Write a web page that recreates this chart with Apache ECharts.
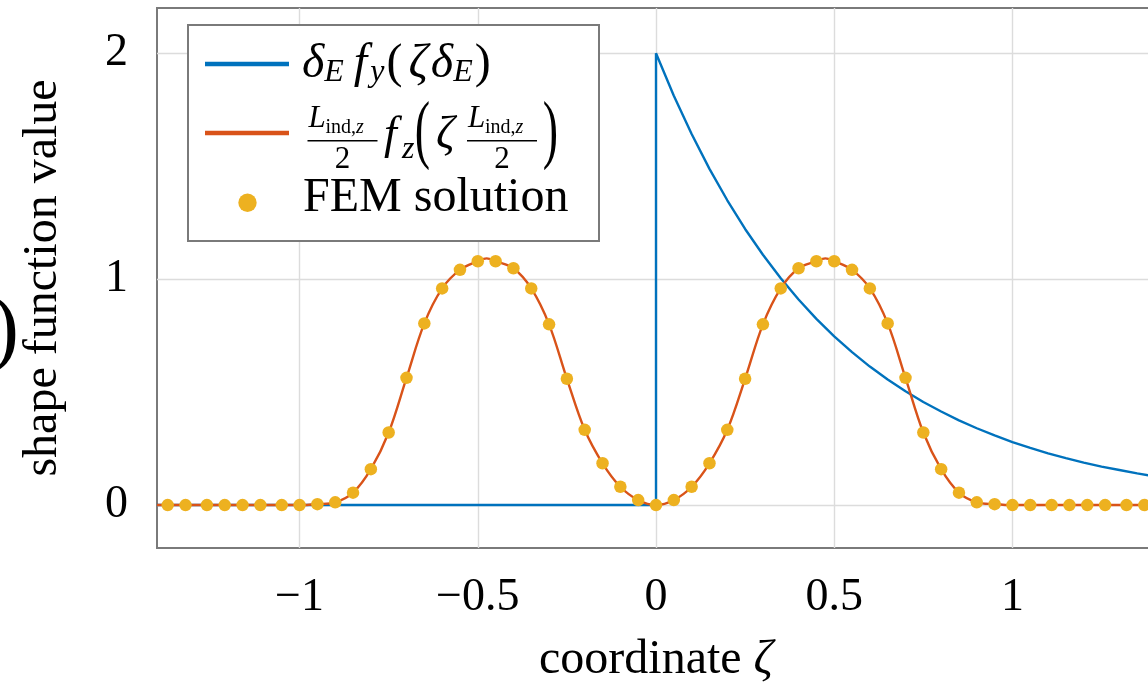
<!DOCTYPE html>
<html>
<head>
<meta charset="utf-8">
<script src="https://cdn.jsdelivr.net/npm/echarts@6/dist/echarts.min.js"></script>
<style>
  html, body { margin: 0; padding: 0; background: #fff; }
  #chart { width: 1148px; height: 694px; }
</style>
</head>
<body>
<div id="chart"></div>
<script>
(function () {

    // delta_E f_y(zeta delta_E)
    var fyX = [-1.4, 0, 0, 0.05, 0.1, 0.15, 0.2, 0.25, 0.3, 0.35, 0.4, 0.45, 0.5, 0.55, 0.6, 0.65,
        0.7, 0.75, 0.8, 0.85, 0.9, 0.95, 1.0, 1.05, 1.1, 1.15, 1.2, 1.25, 1.3, 1.35, 1.4];
    var fyY = [0, 0, 2.0, 1.812, 1.642, 1.488, 1.349, 1.222, 1.108, 1.004, 0.910, 0.824, 0.747, 0.677, 0.613, 0.556,
        0.504, 0.456, 0.414, 0.375, 0.340, 0.308, 0.279, 0.253, 0.229, 0.208, 0.188, 0.170, 0.155, 0.140, 0.127];

    // L/2 f_z(zeta L/2)
    var fzX = [-1.4, -1.37, -1.32, -1.26, -1.21, -1.16, -1.11, -1.05, -1.0, -0.95, -0.9, -0.85, -0.8,
        -0.75, -0.7, -0.65, -0.6, -0.55, -0.5, -0.475, -0.45, -0.4, -0.35, -0.3, -0.25, -0.2, -0.15,
        -0.1, -0.05, 0, 0.05, 0.1, 0.15, 0.2, 0.25, 0.3, 0.35, 0.4, 0.45, 0.475, 0.5, 0.55, 0.6, 0.65,
        0.7, 0.75, 0.8, 0.85, 0.9, 0.95, 1.0, 1.05, 1.11, 1.16, 1.21, 1.26, 1.32, 1.37, 1.4];
    var fzY = [0, 0, 0, 0, 0, 0, 0, 0, 0, 0.004, 0.012, 0.055, 0.159,
        0.321, 0.563, 0.804, 0.959, 1.041, 1.079, 1.092, 1.079, 1.048, 0.959, 0.80, 0.559, 0.333, 0.185,
        0.081, 0.022, 0, 0.022, 0.081, 0.185, 0.333, 0.559, 0.80, 0.959, 1.048, 1.079, 1.092, 1.079, 1.041, 0.959, 0.804,
        0.563, 0.321, 0.159, 0.055, 0.012, 0.004, 0, 0, 0, 0, 0, 0, 0, 0, 0];

    // FEM solution points
    var femX = [-1.37, -1.32, -1.26, -1.21, -1.16, -1.11, -1.05, -1.0, -0.95, -0.9, -0.85, -0.8,
        -0.75, -0.7, -0.65, -0.6, -0.55, -0.5, -0.45, -0.4, -0.35, -0.3, -0.25, -0.2, -0.15,
        -0.1, -0.05, 0, 0.05, 0.1, 0.15, 0.2, 0.25, 0.3, 0.35, 0.4, 0.45, 0.5, 0.55, 0.6, 0.65,
        0.7, 0.75, 0.8, 0.85, 0.9, 0.95, 1.0, 1.05, 1.11, 1.16, 1.21, 1.26, 1.32, 1.37];
    var femY = [0, 0, 0, 0, 0, 0, 0, 0, 0.004, 0.012, 0.055, 0.159,
        0.321, 0.563, 0.804, 0.959, 1.041, 1.079, 1.079, 1.048, 0.959, 0.80, 0.559, 0.333, 0.185,
        0.081, 0.022, 0, 0.022, 0.081, 0.185, 0.333, 0.559, 0.80, 0.959, 1.048, 1.079, 1.079, 1.041, 0.959, 0.804,
        0.563, 0.321, 0.159, 0.055, 0.012, 0.004, 0, 0, 0, 0, 0, 0, 0, 0];

    var xTicks = [-1, -0.5, 0, 0.5, 1];
    var yTicks = [0, 1, 2];

    var BLUE = '#0072BD';
    var ORANGE = '#D95319';
    var YELLOW = '#EDB120';
    var FRAME = '#7a7a7a';
    var GRIDLINE = '#dcdcdc';
    var SERIF = '"Liberation Serif", "Times New Roman", serif';

    function pairs(xs, ys) {
        return xs.map(function (x, i) { return [x, ys[i]]; });
    }

    function tickText(v) {
        return v < 0 ? '\u2212' + Math.abs(v) : String(v);
    }

    var chart = echarts.init(document.getElementById('chart'), null, { renderer: 'canvas' });

    function txt(x, y, text, font, align) {
        return {
            type: 'text', x: x, y: y, silent: true, z: 101,
            style: {
                text: text, font: font, fill: '#000',
                textAlign: align || 'left', align: align || 'left',
                textVerticalAlign: 'middle', verticalAlign: 'middle'
            }
        };
    }

    function paren(x, y, ch) {
        var el = txt(x, y, ch, '46px ' + SERIF, 'center');
        el.scaleY = 1.67;
        return el;
    }

    function fraction(x0, barY) {
        // L_{ind,z} over 2
        return [
            txt(x0 + 1, barY - 22, 'L', 'italic 31px ' + SERIF),
            {
                type: 'text', x: x0 + 18, y: barY - 12.5, silent: true, z: 101,
                style: {
                    text: '{a|ind,}{b|z}', fill: '#000', textAlign: 'left', align: 'left',
                    textVerticalAlign: 'middle', verticalAlign: 'middle',
                    rich: {
                        a: { fontFamily: SERIF, fontSize: 20 },
                        b: { fontFamily: SERIF, fontSize: 20, fontStyle: 'italic' }
                    }
                }
            },
            {
                type: 'line', silent: true, z: 101,
                shape: { x1: x0, y1: barY, x2: x0 + 70, y2: barY },
                style: { stroke: '#000', lineWidth: 1.5 }
            },
            txt(x0 + 35, barY + 19, '2', '31px ' + SERIF, 'center')
        ];
    }

    // legend drawn by hand so the math can be typeset
    var legendBox = [
        {
            type: 'rect', silent: true, z: 100,
            shape: { x: 188, y: 25, width: 411, height: 216 },
            style: { fill: '#fff', stroke: FRAME, lineWidth: 2 }
        },
        {
            type: 'line', silent: true, z: 101,
            shape: { x1: 205, y1: 64, x2: 289, y2: 64 },
            style: { stroke: BLUE, lineWidth: 4.5 }
        },
        {
            type: 'line', silent: true, z: 101,
            shape: { x1: 205, y1: 133, x2: 289, y2: 133 },
            style: { stroke: ORANGE, lineWidth: 4.5 }
        },
        {
            type: 'circle', silent: true, z: 101,
            shape: { cx: 247.5, cy: 202.7, r: 9.2 },
            style: { fill: YELLOW }
        },
        {
            type: 'text', x: 302, y: 64, silent: true, z: 101,
            style: {
                text: '{m|\u03B4}{sp|E}{mp|f}{s|y}{n|(}{mp|\u03B6}{m|\u03B4}{s|E}{n|)}',
                fill: '#000', textAlign: 'left', align: 'left',
                textVerticalAlign: 'middle', verticalAlign: 'middle',
                rich: {
                    m: { fontFamily: SERIF, fontStyle: 'italic', fontSize: 48, lineHeight: 50 },
                    mp: { fontFamily: SERIF, fontStyle: 'italic', fontSize: 48, lineHeight: 50, padding: [0, 3, 0, 4] },
                    s: { fontFamily: SERIF, fontStyle: 'italic', fontSize: 32, lineHeight: 28, verticalAlign: 'bottom' },
                    sp: { fontFamily: SERIF, fontStyle: 'italic', fontSize: 32, lineHeight: 28, verticalAlign: 'bottom', padding: [0, 6, 0, 0] },
                    n: { fontFamily: SERIF, fontSize: 48, lineHeight: 50, padding: [0, 2, 0, 2] }
                }
            }
        },
        txt(303, 198, 'FEM solution', '48px ' + SERIF)
    ];

    var legendMath = [].concat(
        fraction(307.5, 140.7),
        [
            txt(384, 135.5, 'f', 'italic 46px ' + SERIF),
            txt(402, 150, 'z', 'italic 32px ' + SERIF),
            paren(422.5, 134, '('),
            txt(436, 135.5, '\u03B6', 'italic 46px ' + SERIF)
        ],
        fraction(467, 140.7),
        [paren(550.5, 134, ')')]
    );

    var option = {
        animation: false,
        backgroundColor: '#fff',
        grid: {
            left: 157,
            top: 8,
            width: 998,
            height: 540,
            outerBoundsMode: 'none',
            containLabel: false,
            show: true,
            borderColor: FRAME,
            borderWidth: 2,
            backgroundColor: 'transparent'
        },
        xAxis: {
            type: 'value',
            min: -1.4,
            max: 1.4,
            name: '{n|coordinate }{i|\u03B6}',
            nameLocation: 'middle',
            nameGap: 88,
            nameTextStyle: {
                rich: {
                    n: { fontFamily: SERIF, fontSize: 48, color: '#000' },
                    i: { fontFamily: SERIF, fontSize: 48, fontStyle: 'italic', color: '#000' }
                }
            },
            axisLine: { show: false },
            axisTick: { show: false, customValues: xTicks },
            axisLabel: {
                customValues: xTicks,
                formatter: tickText,
                fontFamily: SERIF,
                fontSize: 46,
                color: '#000',
                margin: 27
            },
            splitLine: { show: true, lineStyle: { color: GRIDLINE, width: 1.4 } }
        },
        yAxis: {
            type: 'value',
            min: -0.19,
            max: 2.2,
            name: 'shape function value',
            nameLocation: 'middle',
            nameGap: 90,
            nameTextStyle: { fontFamily: SERIF, fontSize: 48, color: '#000' },
            axisLine: { show: false },
            axisTick: { show: false, customValues: yTicks },
            axisLabel: {
                customValues: yTicks,
                formatter: tickText,
                fontFamily: SERIF,
                fontSize: 46,
                color: '#000',
                margin: 29
            },
            splitLine: { show: true, lineStyle: { color: GRIDLINE, width: 1.4 } }
        },
        graphic: {
            elements: legendBox.concat(legendMath, [
                // cut-off bracket from the neighbouring figure
                {
                    type: 'text', x: -9, y: 333, silent: true,
                    style: { text: ')', font: '84px ' + SERIF, fill: '#000', textAlign: 'left', align: 'left',
                        textVerticalAlign: 'middle', verticalAlign: 'middle' }
                }
            ])
        },
        series: [
            {
                name: 'fy',
                type: 'line',
                data: pairs(fyX, fyY),
                symbol: 'none',
                lineStyle: { color: BLUE, width: 2.4 },
                itemStyle: { color: BLUE },
                z: 2
            },
            {
                name: 'fz',
                type: 'line',
                data: pairs(fzX, fzY),
                symbol: 'none',
                smooth: 0.35,
                lineStyle: { color: ORANGE, width: 2.4 },
                itemStyle: { color: ORANGE },
                z: 3
            },
            {
                name: 'FEM solution',
                type: 'scatter',
                data: pairs(femX, femY),
                symbol: 'circle',
                symbolSize: 12.5,
                itemStyle: { color: YELLOW, opacity: 1 },
                z: 4
            }
        ]
    };

    chart.setOption(option);
})();
</script>
</body>
</html>
